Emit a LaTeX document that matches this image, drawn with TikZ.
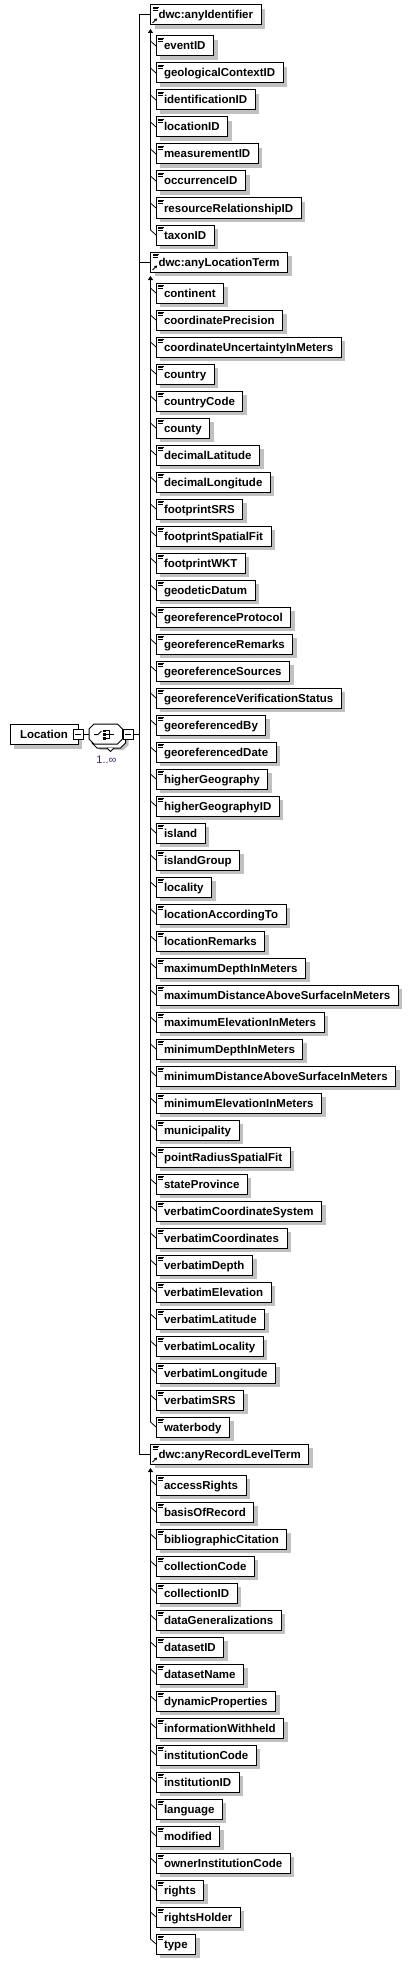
\documentclass[tikz,border=0pt]{standalone}
\usepackage{fontspec}
\setmainfont{Liberation Sans}
\usetikzlibrary{arrows.meta,backgrounds}
\definecolor{multcolor}{RGB}{64,32,128}
\definecolor{shadowgray}{RGB}{192,192,192}
\tikzset{
  box/.style={draw=black,fill=white,line width=1pt,outer sep=0pt,inner ysep=0pt,inner xsep=8pt,minimum height=20pt,text height=10.5pt,text depth=2.5pt,font=\bfseries\fontsize{11.5}{13}\selectfont},
  tickline/.style={line width=.8pt},
  termbox/.style={box,anchor=north west,path picture={
    \draw[line width=.8pt] ([shift={(2,2)}]path picture bounding box.north west) -- ++(6,0);
    \draw[line width=.8pt] ([shift={(2,3.8)}]path picture bounding box.north west) -- ++(5,0);
    \draw[line width=.8pt] ([shift={(2,5.6)}]path picture bounding box.north west) -- ++(5,0);},
    append after command={(\tikzlastnode.west) edge[tickline] ++(-5.5,-5)}},
  refbox/.style={box,anchor=north west,path picture={
    \draw[line width=.8pt] ([shift={(2,2)}]path picture bounding box.north west) -- ++(6,0);
    \draw[line width=.8pt] ([shift={(2,3.8)}]path picture bounding box.north west) -- ++(5,0);
    \draw[line width=.8pt] ([shift={(2,5.6)}]path picture bounding box.north west) -- ++(5,0);
    \draw[line width=1pt,-{Triangle[length=2.5pt,width=3pt]}] ([shift={(2,-2)}]path picture bounding box.south west) -- ++(4.5,-4.5);}},
  locbox/.style={box,minimum width=68pt},
  minusbox/.style={draw=black,fill=white,line width=1pt,outer sep=0pt,inner sep=0pt,minimum size=10pt,path picture={
    \draw[line width=1pt] ([xshift=2pt]path picture bounding box.west) -- ([xshift=-2pt]path picture bounding box.east);}},
  seqbox/.style={inner sep=0pt,outer sep=0pt,minimum width=33.5pt,minimum height=20pt},
  childline/.style={line width=1pt,-{Triangle[width=5pt,length=4pt]}},
  mult/.style={text=multcolor,font=\fontsize{11}{13}\selectfont,inner sep=0pt},
  boxshadow/.style={fill=shadowgray,draw=none}
}
\begin{document}
\begin{tikzpicture}[x=1pt,y=-1pt,line width=1pt]
\useasboundingbox (0,0) rectangle (414,1964);
\coordinate (spine) at (139.5,15);
\node[locbox] (Location) at (44,734.5) {Location};
\node[minusbox] (locminus) at (Location.east) {};
\node[seqbox] (seq) at (105.75,734.5) {};
\path[fill=shadowgray] (100,730) -- (123.5,730) -- (128.5,735) -- (128.5,745) -- (123.5,750) -- (100,750) -- (95,745) -- (95,735) -- cycle;
\path[fill=white,draw=black] (97,728) -- (120.5,728) -- (125.5,733) -- (125.5,743) -- (120.5,748) -- (97,748) -- (92,743) -- (92,733) -- cycle;
\path[fill=white,draw=black] (107,748) -- (110.5,751.5) -- (114,748);
\path[fill=white,draw=black] (94,724) -- (117.5,724) -- (122.5,729) -- (122.5,739) -- (117.5,744) -- (94,744) -- (89,739) -- (89,729) -- cycle;
\draw (94,734.5) -- (98,734.5) -- (101.5,731);
\fill (103,729.5) rectangle (105.5,732);
\fill (103,733.25) rectangle (105.5,735.75);
\fill (103,737) rectangle (105.5,739.5);
\draw (105.5,730.75) -- (109.5,730.75) -- (109.5,738.25) -- (105.5,738.25);
\draw (105.5,734.5) -- (114,734.5);
\node[minusbox] (seqminus) at ([xshift=5.5pt]seq.east) {};
\node[mult] (card) at (106.5,759.5) {1..∞};
\draw (locminus.east) -- (seq.west);
\node[refbox] (anyIdentifier) at (150.5,5) {dwc:anyIdentifier};
\node[termbox] (eventID) at (156,36) {eventID};
\node[termbox] (geologicalContextID) at (156,63) {geologicalContextID};
\node[termbox] (identificationID) at (156,90) {identificationID};
\node[termbox] (locationID) at (156,117) {locationID};
\node[termbox] (measurementID) at (156,144) {measurementID};
\node[termbox] (occurrenceID) at (156,171) {occurrenceID};
\node[termbox] (resourceRelationshipID) at (156,198) {resourceRelationshipID};
\node[termbox] (taxonID) at (156,225) {taxonID};
\node[refbox] (anyLocationTerm) at (150.5,252) {dwc:anyLocationTerm};
\node[termbox] (continent) at (156,283) {continent};
\node[termbox] (coordinatePrecision) at (156,310) {coordinatePrecision};
\node[termbox] (coordinateUncertaintyInMeters) at (156,337) {coordinateUncertaintyInMeters};
\node[termbox] (country) at (156,364) {country};
\node[termbox] (countryCode) at (156,391) {countryCode};
\node[termbox] (county) at (156,418) {county};
\node[termbox] (decimalLatitude) at (156,445) {decimalLatitude};
\node[termbox] (decimalLongitude) at (156,472) {decimalLongitude};
\node[termbox] (footprintSRS) at (156,499) {footprintSRS};
\node[termbox] (footprintSpatialFit) at (156,526) {footprintSpatialFit};
\node[termbox] (footprintWKT) at (156,553) {footprintWKT};
\node[termbox] (geodeticDatum) at (156,580) {geodeticDatum};
\node[termbox] (georeferenceProtocol) at (156,607) {georeferenceProtocol};
\node[termbox] (georeferenceRemarks) at (156,634) {georeferenceRemarks};
\node[termbox] (georeferenceSources) at (156,661) {georeferenceSources};
\node[termbox] (georeferenceVerificationStatus) at (156,688) {georeferenceVerificationStatus};
\node[termbox] (georeferencedBy) at (156,715) {georeferencedBy};
\node[termbox] (georeferencedDate) at (156,742) {georeferencedDate};
\node[termbox] (higherGeography) at (156,769) {higherGeography};
\node[termbox] (higherGeographyID) at (156,796) {higherGeographyID};
\node[termbox] (island) at (156,823) {island};
\node[termbox] (islandGroup) at (156,850) {islandGroup};
\node[termbox] (locality) at (156,877) {locality};
\node[termbox] (locationAccordingTo) at (156,904) {locationAccordingTo};
\node[termbox] (locationRemarks) at (156,931) {locationRemarks};
\node[termbox] (maximumDepthInMeters) at (156,958) {maximumDepthInMeters};
\node[termbox] (maximumDistanceAboveSurfaceInMeters) at (156,985) {maximumDistanceAboveSurfaceInMeters};
\node[termbox] (maximumElevationInMeters) at (156,1012) {maximumElevationInMeters};
\node[termbox] (minimumDepthInMeters) at (156,1039) {minimumDepthInMeters};
\node[termbox] (minimumDistanceAboveSurfaceInMeters) at (156,1066) {minimumDistanceAboveSurfaceInMeters};
\node[termbox] (minimumElevationInMeters) at (156,1093) {minimumElevationInMeters};
\node[termbox] (municipality) at (156,1120) {municipality};
\node[termbox] (pointRadiusSpatialFit) at (156,1147) {pointRadiusSpatialFit};
\node[termbox] (stateProvince) at (156,1174) {stateProvince};
\node[termbox] (verbatimCoordinateSystem) at (156,1201) {verbatimCoordinateSystem};
\node[termbox] (verbatimCoordinates) at (156,1228) {verbatimCoordinates};
\node[termbox] (verbatimDepth) at (156,1255) {verbatimDepth};
\node[termbox] (verbatimElevation) at (156,1282) {verbatimElevation};
\node[termbox] (verbatimLatitude) at (156,1309) {verbatimLatitude};
\node[termbox] (verbatimLocality) at (156,1336) {verbatimLocality};
\node[termbox] (verbatimLongitude) at (156,1363) {verbatimLongitude};
\node[termbox] (verbatimSRS) at (156,1390) {verbatimSRS};
\node[termbox] (waterbody) at (156,1417) {waterbody};
\node[refbox] (anyRecordLevelTerm) at (150.5,1444) {dwc:anyRecordLevelTerm};
\node[termbox] (accessRights) at (156,1475) {accessRights};
\node[termbox] (basisOfRecord) at (156,1502) {basisOfRecord};
\node[termbox] (bibliographicCitation) at (156,1529) {bibliographicCitation};
\node[termbox] (collectionCode) at (156,1556) {collectionCode};
\node[termbox] (collectionID) at (156,1583) {collectionID};
\node[termbox] (dataGeneralizations) at (156,1610) {dataGeneralizations};
\node[termbox] (datasetID) at (156,1637) {datasetID};
\node[termbox] (datasetName) at (156,1664) {datasetName};
\node[termbox] (dynamicProperties) at (156,1691) {dynamicProperties};
\node[termbox] (informationWithheld) at (156,1718) {informationWithheld};
\node[termbox] (institutionCode) at (156,1745) {institutionCode};
\node[termbox] (institutionID) at (156,1772) {institutionID};
\node[termbox] (language) at (156,1799) {language};
\node[termbox] (modified) at (156,1826) {modified};
\node[termbox] (ownerInstitutionCode) at (156,1853) {ownerInstitutionCode};
\node[termbox] (rights) at (156,1880) {rights};
\node[termbox] (rightsHolder) at (156,1907) {rightsHolder};
\node[termbox] (type) at (156,1934) {type};
\begin{scope}[on background layer]
\foreach \n in {Location,anyIdentifier,eventID,geologicalContextID,identificationID,locationID,measurementID,occurrenceID,resourceRelationshipID,taxonID,
  anyLocationTerm,continent,coordinatePrecision,coordinateUncertaintyInMeters,country,countryCode,county,decimalLatitude,decimalLongitude,footprintSRS,footprintSpatialFit,footprintWKT,geodeticDatum,
  georeferenceProtocol,georeferenceRemarks,georeferenceSources,georeferenceVerificationStatus,georeferencedBy,georeferencedDate,higherGeography,higherGeographyID,island,islandGroup,locality,
  locationAccordingTo,locationRemarks,maximumDepthInMeters,maximumDistanceAboveSurfaceInMeters,maximumElevationInMeters,minimumDepthInMeters,minimumDistanceAboveSurfaceInMeters,minimumElevationInMeters,
  municipality,pointRadiusSpatialFit,stateProvince,verbatimCoordinateSystem,verbatimCoordinates,verbatimDepth,verbatimElevation,verbatimLatitude,verbatimLocality,verbatimLongitude,verbatimSRS,waterbody,
  anyRecordLevelTerm,accessRights,basisOfRecord,bibliographicCitation,collectionCode,collectionID,dataGeneralizations,datasetID,datasetName,dynamicProperties,informationWithheld,institutionCode,
  institutionID,language,modified,ownerInstitutionCode,rights,rightsHolder,type}
  \path[boxshadow] ([shift={(4,4)}]\n.north west) rectangle ([shift={(4,4)}]\n.south east);
\end{scope}
\draw (anyIdentifier.west) -- (anyIdentifier.west -| spine) -- (anyRecordLevelTerm.west -| spine) -- (anyRecordLevelTerm.west);
\draw (anyLocationTerm.west) -- (anyLocationTerm.west -| spine);
\draw (seqminus.east) -- (seqminus.east -| spine);
\draw[childline] ([xshift=-5.5pt,yshift=5pt]taxonID.west) -- ([yshift=-4pt]anyIdentifier.south west);
\draw[childline] ([xshift=-5.5pt,yshift=5pt]waterbody.west) -- ([yshift=-4pt]anyLocationTerm.south west);
\draw[childline] ([xshift=-5.5pt,yshift=5pt]type.west) -- ([yshift=-4pt]anyRecordLevelTerm.south west);
\end{tikzpicture}
\end{document}
